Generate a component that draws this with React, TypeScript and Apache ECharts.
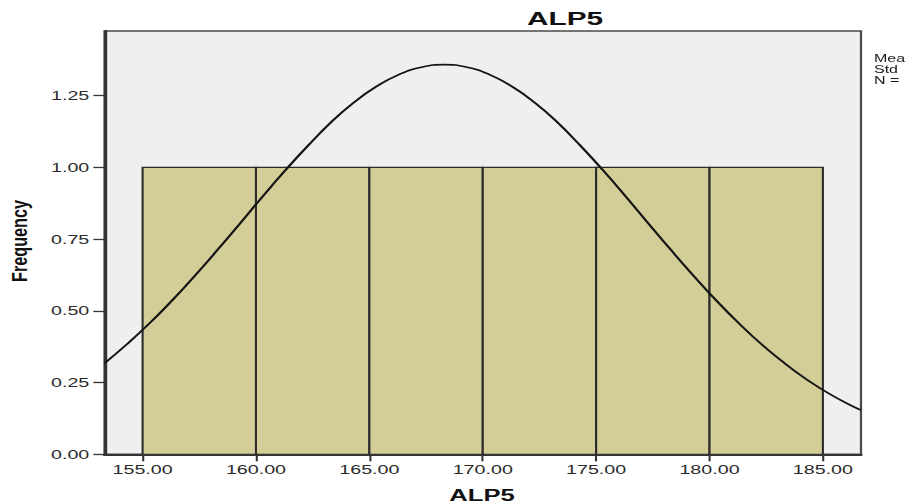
import React, { useEffect, useRef } from "react";
import * as echarts from "echarts";

// Histogram bins of ALP5 and their counts
const binStarts = [155, 160, 165, 170, 175, 180];
const binEnds = [160, 165, 170, 175, 180, 185];
const frequencies = [1, 1, 1, 1, 1, 1];

// Fitted normal curve, sampled every unit around its peak at 168.3,
// ending on both sides at the edges of the plot
const curveX = [
  153.32, 154.3, 155.3, 156.3, 157.3, 158.3, 159.3, 160.3, 161.3, 162.3, 163.3,
  164.3, 165.3, 166.3, 167.3, 168.3, 169.3, 170.3, 171.3, 172.3, 173.3, 174.3,
  175.3, 176.3, 177.3, 178.3, 179.3, 180.3, 181.3, 182.3, 183.3, 184.3, 185.3,
  186.3, 186.68,
];
const curveY = [
  0.317, 0.383, 0.456, 0.536, 0.622, 0.712, 0.805, 0.899, 0.99, 1.076, 1.156,
  1.225, 1.281, 1.323, 1.349, 1.358, 1.349, 1.323, 1.281, 1.225, 1.156, 1.076,
  0.99, 0.899, 0.805, 0.712, 0.622, 0.536, 0.456, 0.383, 0.318, 0.26, 0.21,
  0.168, 0.154,
];

// Axis ticks
const xTicks = [155, 160, 165, 170, 175, 180, 185];
const yTicks = [0, 0.25, 0.5, 0.75, 1.0, 1.25];
const xRange = [153.32, 186.68];
const yRange = [0, 1.475];

const chartTitle = "ALP5";
const xTitle = "ALP5";
const yTitle = "Frequency";
// Statistics box at the right edge, of which only the start shows
const legendLines = ["Mea", "Std", "N ="];

// The chart is laid out narrow and widened horizontally on screen.
const STRETCH = 1.6;
const HEIGHT = 504;
const WIDTH = 907 / STRETCH;

const FONT = "'Liberation Sans', Arial, sans-serif";

export default function App() {
  const ref = useRef<HTMLDivElement>(null);

  useEffect(() => {
    if (!ref.current) return;
    const chart = echarts.init(ref.current, null, {
      renderer: "svg",
      width: WIDTH,
      height: HEIGHT,
    });

    const bins = binStarts.map((s, i) => [s, binEnds[i], frequencies[i]]);
    const curve = curveX.map((x, i) => [x, curveY[i]]);

    const gridLeft = 104.5 / STRETCH;
    const gridRight = WIDTH - 861 / STRETCH;

    chart.setOption({
      animation: false,
      backgroundColor: "#ffffff",
      textStyle: { fontFamily: FONT },
      grid: {
        left: gridLeft,
        right: gridRight,
        top: 31,
        bottom: HEIGHT - 454.3,
        show: true,
        backgroundColor: "#efefef",
        borderColor: "#4a4a4a",
        borderWidth: 1.4,
        containLabel: false,
        outerBoundsMode: "none",
      },
      xAxis: {
        type: "value",
        min: xRange[0],
        max: xRange[1],
        splitLine: { show: false },
        axisLine: { show: true, lineStyle: { color: "#333333", width: 2.2 } },
        axisTick: {
          show: true,
          length: 7,
          customValues: xTicks,
          lineStyle: { color: "#333333", width: 1.3 },
        },
        axisLabel: {
          customValues: xTicks,
          formatter: (v: number) => v.toFixed(2),
          fontFamily: FONT,
          fontSize: 12.3,
          color: "#2a2a2a",
          margin: 9,
        },
      },
      yAxis: {
        type: "value",
        min: yRange[0],
        max: yRange[1],
        splitLine: { show: false },
        axisLine: { show: true, lineStyle: { color: "#333333", width: 2 } },
        axisTick: {
          show: true,
          length: 7,
          customValues: yTicks,
          lineStyle: { color: "#333333", width: 1.3 },
        },
        axisLabel: {
          customValues: yTicks,
          formatter: (v: number) => v.toFixed(2),
          fontFamily: FONT,
          fontSize: 12.3,
          color: "#2a2a2a",
          margin: 9.5,
        },
      },
      series: [
        {
          type: "custom",
          z: 2,
          clip: true,
          data: bins,
          encode: { x: [0, 1], y: 2 },
          renderItem: (_params: any, api: any) => {
            const topLeft = api.coord([api.value(0), api.value(2)]);
            const bottomRight = api.coord([api.value(1), 0]);
            return {
              type: "rect",
              shape: {
                x: topLeft[0],
                y: topLeft[1],
                width: bottomRight[0] - topLeft[0],
                height: bottomRight[1] - topLeft[1],
              },
              style: {
                fill: "#d3ce98",
                stroke: "#2b2b2b",
                lineWidth: 1.3,
              },
            };
          },
        },
        {
          type: "line",
          z: 3,
          data: curve,
          smooth: true,
          showSymbol: false,
          clip: true,
          lineStyle: { color: "#151515", width: 1.6 },
        },
      ],
      graphic: [
        {
          type: "text",
          x: 565 / STRETCH,
          y: 18.5,
          style: {
            text: chartTitle,
            font: `bold 18.6px ${FONT}`,
            fill: "#111111",
            align: "center",
            verticalAlign: "middle",
          },
        },
        {
          type: "text",
          x: 482 / STRETCH,
          y: 495.5,
          style: {
            text: xTitle,
            font: `bold 16px ${FONT}`,
            fill: "#111111",
            align: "center",
            verticalAlign: "middle",
          },
        },
        {
          type: "text",
          x: 19 / STRETCH,
          y: 241,
          rotation: Math.PI / 2,
          scaleX: 1.16,
          style: {
            text: yTitle,
            font: `bold 14px ${FONT}`,
            fill: "#111111",
            align: "center",
            verticalAlign: "middle",
          },
        },
        ...legendLines.map((line, i) => ({
          type: "text",
          x: 874 / STRETCH,
          y: 58.5 + i * 11,
          style: {
            text: line,
            font: `10px ${FONT}`,
            fill: "#1a1a1a",
            align: "left",
            verticalAlign: "middle",
          },
        })),
      ],
    });

    return () => {
      chart.dispose();
    };
  }, []);

  return (
    <div
      style={{
        position: "absolute",
        left: 0,
        top: 0,
        width: 907,
        height: HEIGHT,
        overflow: "hidden",
        background: "#ffffff",
      }}
    >
      <div
        ref={ref}
        style={{
          width: WIDTH,
          height: HEIGHT,
          transform: `scaleX(${STRETCH})`,
          transformOrigin: "0 0",
        }}
      />
    </div>
  );
}
